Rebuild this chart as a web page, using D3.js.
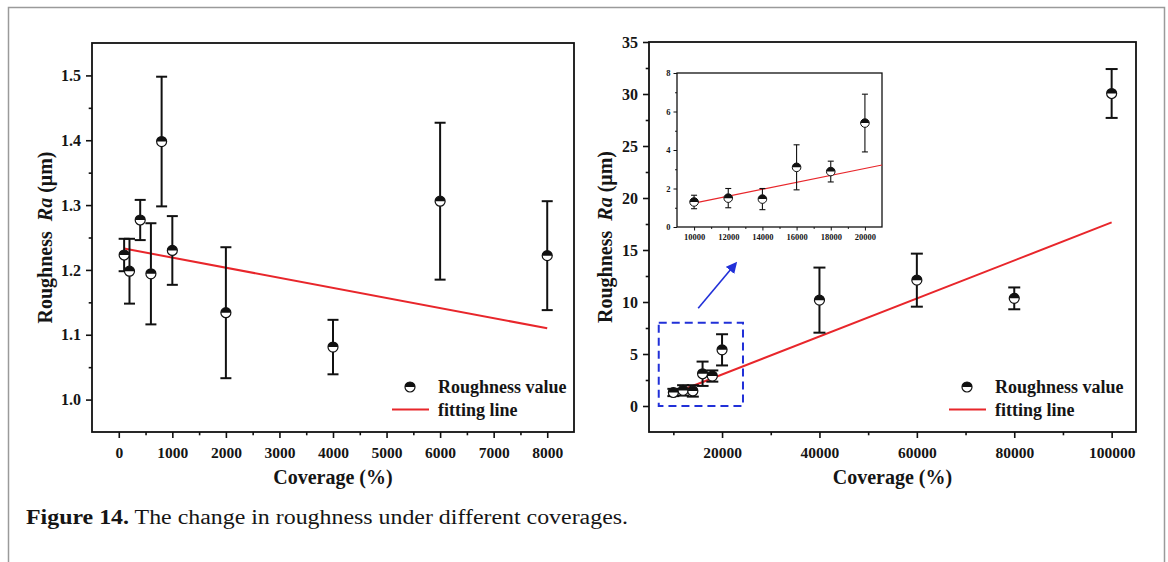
<!DOCTYPE html>
<html>
<head>
<meta charset="utf-8">
<script src="https://cdn.jsdelivr.net/npm/d3@7"></script>
<style>
body { margin: 0; background: #fff; }
svg text { font-family: "Liberation Serif", "Times New Roman", serif; font-weight: bold; fill: #151515; }
</style>
</head>
<body>
<svg id="fig" width="1168" height="562"></svg>
<script>
// ---- left panel: coverage 0 - 8000 %
const leftCoverage = [100, 200, 400, 600, 800, 1000, 2000, 4000, 6000, 8000];
const leftRa = [1.223, 1.198, 1.277, 1.194, 1.398, 1.230, 1.134, 1.081, 1.306, 1.222];
const leftErr = [0.025, 0.05, 0.031, 0.078, 0.1, 0.053, 0.101, 0.042, 0.121, 0.084];
const leftFitX = [100, 8000];
const leftFitY = [1.233, 1.110];
const leftTicksX = [0, 1000, 2000, 3000, 4000, 5000, 6000, 7000, 8000];
const leftMinorX = [500, 1500, 2500, 3500, 4500, 5500, 6500, 7500];
const leftTicksY = [1.0, 1.1, 1.2, 1.3, 1.4, 1.5];
const leftMinorY = [1.05, 1.15, 1.25, 1.35, 1.45];

// ---- right panel: coverage 10000 - 100000 %
const rightCoverage = [10000, 12000, 14000, 16000, 18000, 20000, 40000, 60000, 80000, 100000];
const rightRa = [1.3, 1.5, 1.45, 3.1, 2.88, 5.4, 10.18, 12.1, 10.35, 30.05];
const rightErr = [0.35, 0.5, 0.55, 1.17, 0.54, 1.5, 3.13, 2.55, 1.05, 2.35];
const rightFitX = [10000, 100000];
const rightFitY = [1.2, 17.65];
const rightTicksX = [20000, 40000, 60000, 80000, 100000];
const rightMinorX = [10000, 30000, 50000, 70000, 90000];
const rightTicksY = [0, 5, 10, 15, 20, 25, 30, 35];
const rightMinorY = [2.5, 7.5, 12.5, 17.5, 22.5, 27.5, 32.5];
const zoomBoxX = [7000, 24300];
const zoomBoxY = [0, 8];
const arrowX = [15100, 22800];
const arrowY = [9.4, 13.7];

// ---- inset (first six points of right panel)
const insetCoverage = rightCoverage.slice(0, 6);
const insetRa = rightRa.slice(0, 6);
const insetErr = rightErr.slice(0, 6);
const insetFitX = [10000, 21000];
const insetFitY = [1.24, 3.22];
const insetTicksX = [10000, 12000, 14000, 16000, 18000, 20000];
const insetMinorX = [11000, 13000, 15000, 17000, 19000];
const insetTicksY = [0, 2, 4, 6, 8];
const insetMinorY = [1, 3, 5, 7];

const RED = '#e8262b';
const BLUE = '#2130d8';

const svg = d3.select('#fig');

// outer frame of the figure
svg.append('path')
	.attr('d', 'M8.5,562 V7.5 H1164.5 V562')
	.attr('fill', 'none')
	.attr('stroke', '#9a9a9a')
	.attr('stroke-width', 1.5);

svg.append('defs').append('marker')
	.attr('id', 'arrowHead')
	.attr('viewBox', '0 0 10 10')
	.attr('refX', 8).attr('refY', 5)
	.attr('markerWidth', 7).attr('markerHeight', 7)
	.attr('orient', 'auto')
	.append('path').attr('d', 'M0,0 L10,5 L0,10 Z').attr('fill', BLUE);

function halfMarker(g, cx, cy, r, sw) {
	g.append('circle')
		.attr('cx', cx).attr('cy', cy).attr('r', r)
		.attr('fill', '#fff').attr('stroke', '#111').attr('stroke-width', sw);
	g.append('path')
		.attr('transform', `translate(${cx},${cy})`)
		.attr('d', d3.arc()({ innerRadius: 0, outerRadius: r, startAngle: -Math.PI / 2, endAngle: Math.PI / 2 }))
		.attr('fill', '#111');
}

function drawAxes(g, x, y, box, o) {
	const bottom = g.append('g').attr('transform', `translate(0,${box.y1})`);
	bottom.call(d3.axisBottom(x).tickValues(o.majorX).tickSize(o.tick).tickPadding(o.pad).tickFormat(d3.format('d')));
	bottom.append('g').call(d3.axisBottom(x).tickValues(o.minorX).tickSize(o.tick * 0.55).tickFormat(''));

	const left = g.append('g').attr('transform', `translate(${box.x0},0)`);
	left.call(d3.axisLeft(y).tickValues(o.majorY).tickSize(o.tick).tickPadding(o.padY).tickFormat(o.fmtY));
	left.append('g').call(d3.axisLeft(y).tickValues(o.minorY).tickSize(o.tick * 0.55).tickFormat(''));

	g.selectAll('.domain').remove();
	g.selectAll('.tick line').attr('stroke', '#111').attr('stroke-width', o.sw);
	g.selectAll('.tick text')
		.attr('fill', '#151515')
		.style('font-family', '"Liberation Serif", serif')
		.style('font-weight', 'bold');
	bottom.selectAll('.tick text').style('font-size', o.fontX + 'px');
	left.selectAll('.tick text').style('font-size', o.fontY + 'px');

	g.append('rect')
		.attr('x', box.x0).attr('y', box.y0)
		.attr('width', box.x1 - box.x0).attr('height', box.y1 - box.y0)
		.attr('fill', 'none').attr('stroke', '#111').attr('stroke-width', o.box);
}

function drawSeries(g, x, y, xs, ys, es, fitX, fitY, o) {
	g.append('path')
		.datum(fitX.map((d, i) => [d, fitY[i]]))
		.attr('d', d3.line().x(d => x(d[0])).y(d => y(d[1])))
		.attr('fill', 'none').attr('stroke', RED).attr('stroke-width', o.fitW);

	const bars = g.append('g').attr('stroke', '#111').attr('stroke-width', o.barW);
	xs.forEach((c, i) => {
		const px = x(c);
		const top = y(ys[i] + es[i]);
		const bot = y(ys[i] - es[i]);
		bars.append('line').attr('x1', px).attr('x2', px).attr('y1', top).attr('y2', bot);
		bars.append('line').attr('x1', px - o.cap).attr('x2', px + o.cap).attr('y1', top).attr('y2', top);
		bars.append('line').attr('x1', px - o.cap).attr('x2', px + o.cap).attr('y1', bot).attr('y2', bot);
	});
	const marks = g.append('g');
	xs.forEach((c, i) => halfMarker(marks, x(c), y(ys[i]), o.r, o.mw));
}

function yTitle(g, cx, cy) {
	const t = g.append('text')
		.attr('transform', `translate(${cx},${cy}) rotate(-90)`)
		.attr('text-anchor', 'middle')
		.style('font-size', '20px');
	t.append('tspan').text('Roughness');
	t.append('tspan').attr('dx', 10).style('font-style', 'italic').text('Ra');
	t.append('tspan').text(' (μm)');
}

function legend(g, box) {
	halfMarker(g, box.x0 + 318, 387, 5, 1.2);
	g.append('text').attr('x', box.x0 + 346).attr('y', 393).style('font-size', '18px').text('Roughness value');
	g.append('line')
		.attr('x1', box.x0 + 300).attr('x2', box.x0 + 337)
		.attr('y1', 409.5).attr('y2', 409.5)
		.attr('stroke', RED).attr('stroke-width', 2);
	g.append('text').attr('x', box.x0 + 346).attr('y', 416).style('font-size', '18px').text('fitting line');
}

/* -------------------- LEFT PANEL ---------------------- */
const boxL = { x0: 92, x1: 574, y0: 43, y1: 432 };
const xL = d3.scaleLinear().domain([-500, 8500]).range([boxL.x0, boxL.x1]);
const yL = d3.scaleLinear().domain([0.95, 1.55]).range([boxL.y1, boxL.y0]);
const gL = svg.append('g');
drawAxes(gL, xL, yL, boxL, {
	majorX: leftTicksX, minorX: leftMinorX, majorY: leftTicksY, minorY: leftMinorY,
	tick: 6, pad: 9, padY: 5, fmtY: d3.format('.1f'), fontX: 15.5, fontY: 16, sw: 1.6, box: 1.8
});
drawSeries(gL, xL, yL, leftCoverage, leftRa, leftErr, leftFitX, leftFitY,
	{ fitW: 2, barW: 2, cap: 5.5, r: 5, mw: 1.2 });
legend(gL, boxL);
yTitle(gL, 52, (boxL.y0 + boxL.y1) / 2);
gL.append('text').attr('x', (boxL.x0 + boxL.x1) / 2).attr('y', 484)
	.attr('text-anchor', 'middle').style('font-size', '20px').text('Coverage (%)');

/* -------------------- RIGHT PANEL ---------------------- */
const boxR = { x0: 649, x1: 1136, y0: 42, y1: 432 };
const xR = d3.scaleLinear().domain([5000, 105000]).range([boxR.x0, boxR.x1]);
const yR = d3.scaleLinear().domain([-2.5, 35]).range([boxR.y1, boxR.y0]);
const gR = svg.append('g');
drawAxes(gR, xR, yR, boxR, {
	majorX: rightTicksX, minorX: rightMinorX, majorY: rightTicksY, minorY: rightMinorY,
	tick: 6, pad: 9, padY: 5, fmtY: d3.format('d'), fontX: 15.5, fontY: 16, sw: 1.6, box: 1.8
});
drawSeries(gR, xR, yR, rightCoverage, rightRa, rightErr, rightFitX, rightFitY,
	{ fitW: 2, barW: 2, cap: 6, r: 5, mw: 1.2 });

// dashed zoom box and arrow
gR.append('rect')
	.attr('x', xR(zoomBoxX[0])).attr('y', yR(zoomBoxY[1]))
	.attr('width', xR(zoomBoxX[1]) - xR(zoomBoxX[0]))
	.attr('height', yR(zoomBoxY[0]) - yR(zoomBoxY[1]))
	.attr('fill', 'none').attr('stroke', BLUE).attr('stroke-width', 2)
	.attr('stroke-dasharray', '8,5');
gR.append('line')
	.attr('x1', xR(arrowX[0])).attr('y1', yR(arrowY[0]))
	.attr('x2', xR(arrowX[1])).attr('y2', yR(arrowY[1]))
	.attr('stroke', BLUE).attr('stroke-width', 1.6)
	.attr('marker-end', 'url(#arrowHead)');

legend(gR, boxR);
yTitle(gR, 612, (boxR.y0 + boxR.y1) / 2);
gR.append('text').attr('x', (boxR.x0 + boxR.x1) / 2).attr('y', 484)
	.attr('text-anchor', 'middle').style('font-size', '20px').text('Coverage (%)');

/* -------------------- INSET ---------------------- */
const boxI = { x0: 677, x1: 882, y0: 73, y1: 227 };
const xI = d3.scaleLinear().domain([9000, 21000]).range([boxI.x0, boxI.x1]);
const yI = d3.scaleLinear().domain([0, 8]).range([boxI.y1, boxI.y0]);
const gI = svg.append('g');
gI.append('rect')
	.attr('x', boxI.x0).attr('y', boxI.y0)
	.attr('width', boxI.x1 - boxI.x0).attr('height', boxI.y1 - boxI.y0)
	.attr('fill', '#fff');
drawAxes(gI, xI, yI, boxI, {
	majorX: insetTicksX, minorX: insetMinorX, majorY: insetTicksY, minorY: insetMinorY,
	tick: 3.5, pad: 3.5, padY: 3, fmtY: d3.format('d'), fontX: 8.5, fontY: 8.5, sw: 1, box: 1.3
});
drawSeries(gI, xI, yI, insetCoverage, insetRa, insetErr, insetFitX, insetFitY,
	{ fitW: 1.2, barW: 1.1, cap: 3, r: 4.3, mw: 1 });

/* -------------------- CAPTION ---------------------- */
const cap = svg.append('text').attr('x', 26).attr('y', 524).style('font-size', '20px')
	.attr('textLength', 602).attr('lengthAdjust', 'spacingAndGlyphs');
cap.append('tspan').text('Figure 14.');
cap.append('tspan').style('font-weight', 'normal').text(' The change in roughness under different coverages.');
</script>
</body>
</html>
